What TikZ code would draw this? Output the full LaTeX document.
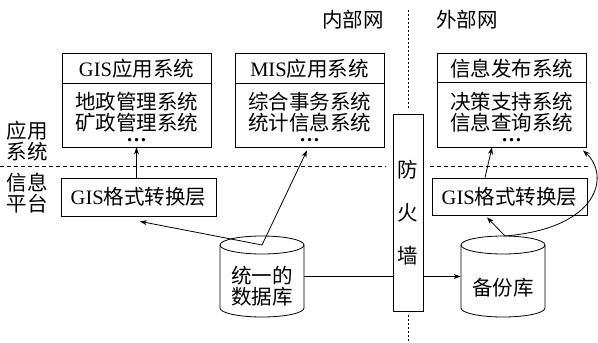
\documentclass[tikz,border=0pt]{standalone}
\usepackage{fontspec}
\setmainfont{Liberation Serif}
\newfontfamily\cjk{Noto Sans CJK SC}
\usetikzlibrary{arrows.meta}
\newcommand\zh[1]{{\cjk #1}}
\newcommand\bdots{{\bfseries …}}
\begin{document}
\begin{tikzpicture}[x=1pt,y=-1pt,
  font=\fontsize{20.5}{21}\selectfont,
  line width=0.8pt,
  appbox/.style={draw,inner sep=0pt,minimum width=149pt,minimum height=94pt},
  convbox/.style={draw,inner sep=0pt,minimum width=155pt,minimum height=38pt},
  txt/.style={inner sep=0pt},
  twoline/.style={inner sep=0pt,align=center},
  bodytxt/.style={inner sep=0pt,align=center,anchor=north},
  arr/.style={-{Stealth[length=7pt,width=5pt]}},
  sep/.style={dash pattern=on 4pt off 3pt,line width=0.7pt},
  netsep/.style={dash pattern=on 2pt off 2pt,line width=0.7pt}]
\useasboundingbox (0,0) rectangle (598,343);

% top labels
\node[txt] (inner) at (353,20) {\zh{内部网}};
\node[txt] (outer) at (467,20) {\zh{外部网}};

% side labels
\node[twoline] (la) at (27,141) {\zh{应用}\\\zh{系统}};
\node[twoline] (lb) at (27,193) {\zh{信息}\\\zh{平台}};

% application boxes
\node[appbox] (gisapp) at (136.5,100) {};
\draw (gisapp.north west) ++(0,31) -- ++(149,0);
\node[txt] (gisappT) at (136.5,68.5) {GIS\zh{应用系统}};
\node[bodytxt] (gisappB) at (136.5,92) {\zh{地政管理系统}\\\zh{矿政管理系统}\\[-10pt]\bdots};

\node[appbox] (mis) at (309.5,100) {};
\draw (mis.north west) ++(0,31) -- ++(149,0);
\node[txt] (misT) at (309.5,68.5) {MIS\zh{应用系统}};
\node[bodytxt] (misB) at (309.5,92) {\zh{综合事务系统}\\\zh{统计信息系统}\\[-10pt]\bdots};

\node[appbox] (info) at (511.5,100) {};
\draw (info.north west) ++(0,30) -- ++(149,0);
\node[txt] (infoT) at (511.5,68.5) {\zh{信息发布系统}};
\node[bodytxt] (infoB) at (511.5,92) {\zh{决策支持系统}\\\zh{信息查询系统}\\[-10pt]\bdots};

% separator lines
\draw[sep] (0,166) -- (386,166);
\draw[sep] (430,166) -- (590,166);

% firewall
\node[draw,inner sep=0pt,minimum width=30pt,minimum height=197pt] (fw) at (408,212.5) {};
\node[txt] (fw1) at (408,170) {\zh{防}};
\node[txt] (fw2) at (408,213) {\zh{火}};
\node[txt] (fw3) at (408,256) {\zh{墙}};
\draw[netsep] (408,10) -- ([yshift=4pt]fw.north);
\draw[netsep] ([yshift=-4pt]fw.south) -- (408,343);

% conversion layers
\node[convbox] (gisconv) at (138.5,197) {GIS\zh{格式转换层}};
\node[convbox,minimum height=37pt] (rconv) at (509.5,196.5) {GIS\zh{格式转换层}};

% database cylinders
\node[inner sep=0pt,minimum width=84pt,minimum height=81pt] (db) at (262,276.5) {};
\draw (220,245) -- (220,308) arc[start angle=180,end angle=0,x radius=42,y radius=9] -- (304,245);
\draw (262,245) ellipse[x radius=42,y radius=9];
\node[twoline] (dbT) at (262,286) {\zh{统一的}\\\zh{数据库}};

\node[inner sep=0pt,minimum width=84pt,minimum height=81pt] (bk) at (503,276.5) {};
\draw (461,245) -- (461,308) arc[start angle=180,end angle=0,x radius=42,y radius=9] -- (545,245);
\draw (503,245) ellipse[x radius=42,y radius=9];
\node[txt] (bkT) at (503,288) {\zh{备份库}};

\coordinate (dbtop) at (262,245);
\coordinate (bktop) at (505,236);

% connectors
\draw[arr] (gisconv.north -| gisapp.south) -- (gisapp.south);
\draw[arr] (dbtop) -- ([xshift=1.5pt,yshift=-5pt]gisconv.south);
\draw[arr] (dbtop) -- ([xshift=-2.5pt,yshift=-3pt]mis.south);
\draw (db.east) -- (db.east -| fw.west);
\draw[arr] (db.east -| fw.east) -- (db.east -| bk.west);
\draw[arr] (bktop) -- ([xshift=-22.5pt,yshift=-2pt]rconv.south);
\draw[arr] ([xshift=-24.5pt]rconv.north) -- ([xshift=-19.5pt]info.south);
\draw[arr] (bktop) .. controls (600,228) and (610,175) .. ([xshift=71.5pt,yshift=-3pt]info.south);
\end{tikzpicture}
\end{document}
